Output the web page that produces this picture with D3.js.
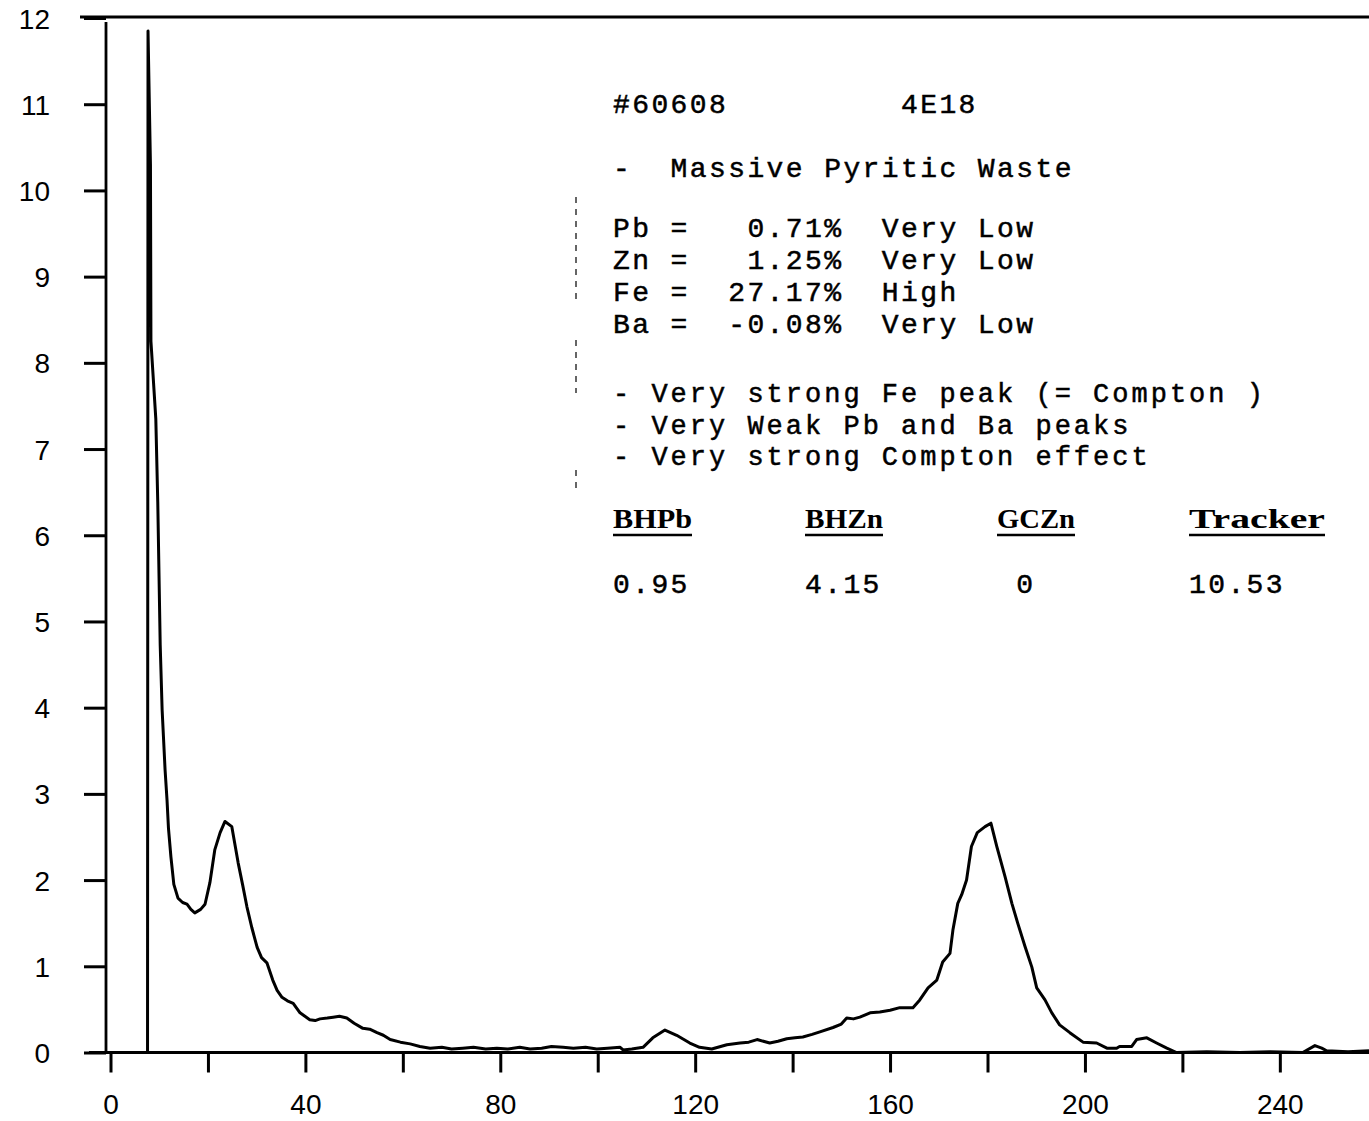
<!DOCTYPE html>
<html><head><meta charset="utf-8">
<script src="https://cdn.jsdelivr.net/npm/d3@7"></script>
<style>
body{margin:0;background:#fff}
svg{display:block}
</style>
</head><body>
<svg id="c" width="1369" height="1121"></svg>
<script>
// ---- data ----
const channels = [7.6,7.7,8.2,8.3,9.3,9.7,10.2,10.6,11.2,11.6,11.9,12.4,13.0,13.85,14.8,15.7,16.5,17.3,18.5,19.4,20.4,21.4,22.5,23.5,24.9,26.2,27.1,28.0,29.0,30.1,31.0,32.1,33.3,34.2,35.2,36.3,37.5,38.9,39.9,40.9,42.0,43.0,44.5,45.7,47.0,48.5,50.0,51.8,53.2,54.7,56.0,57.4,59.5,61.5,63.5,65.6,68.0,70.0,72.3,74.5,77.0,79.3,81.5,84.0,86.1,88.5,90.5,92.9,95.0,97.5,99.8,102.0,104.6,105.2,107.0,109.3,111.3,113.8,116.2,118.9,120.9,123.4,126.5,129.2,131.0,132.7,135.3,137.0,138.8,140.5,142.1,144.0,145.6,148.3,150.0,151.1,152.5,153.8,155.9,157.9,160.0,162.0,164.7,166.1,167.8,169.6,170.8,172.3,172.9,173.9,174.7,175.7,176.7,177.9,179.5,180.7,181.9,183.6,185.0,186.2,187.7,189.1,190.1,191.8,193.2,194.8,196.9,199.6,202.4,204.5,206.5,207.1,209.6,210.6,212.7,214.7,216.8,218.8,225.0,231.8,238.0,244.7,247.2,248.6,249.6,254.0,258.3];
const counts   = [0,11.85,10.3,8.25,7.35,6.39,4.73,3.97,3.28,2.93,2.6,2.27,1.95,1.79,1.74,1.72,1.66,1.62,1.66,1.72,1.97,2.35,2.55,2.68,2.62,2.2,1.95,1.69,1.45,1.22,1.1,1.04,0.84,0.72,0.64,0.6,0.57,0.46,0.42,0.38,0.37,0.39,0.4,0.41,0.42,0.40,0.34,0.28,0.27,0.23,0.2,0.15,0.12,0.10,0.07,0.05,0.06,0.04,0.05,0.06,0.04,0.05,0.04,0.06,0.04,0.05,0.07,0.06,0.05,0.06,0.04,0.05,0.06,0.03,0.04,0.06,0.17,0.26,0.2,0.11,0.06,0.04,0.09,0.11,0.12,0.15,0.11,0.13,0.16,0.17,0.18,0.21,0.24,0.29,0.33,0.40,0.39,0.41,0.46,0.47,0.49,0.52,0.52,0.61,0.75,0.84,1.05,1.15,1.42,1.73,1.83,2.0,2.39,2.55,2.62,2.66,2.39,2.04,1.73,1.5,1.23,0.99,0.75,0.61,0.46,0.32,0.23,0.12,0.11,0.05,0.05,0.07,0.07,0.15,0.17,0.11,0.05,0.0,0.01,0.0,0.01,0.0,0.08,0.05,0.02,0.01,0.02];

const yTickValues = [0,1,2,3,4,5,6,7,8,9,10,11,12];
const xTickValues = [0,20,40,60,80,100,120,140,160,180,200,220,240];
const xTickLabels = [0,40,80,120,160,200,240];

const sampleId = "#60608";
const sampleCode = "4E18";
const description = "Massive Pyritic Waste";
const elements = ["Pb","Zn","Fe","Ba"];
const percents = ["0.71%","1.25%","27.17%","-0.08%"];
const grades = ["Very Low","Very Low","High","Very Low"];
const remarks = ["- Very strong Fe peak (= Compton )","- Very Weak Pb and Ba peaks","- Very strong Compton effect"];
const indexNames = ["BHPb","BHZn","GCZn","Tracker"];
const indexValues = ["0.95","4.15","0","10.53"];

// ---- drawing ----
const svg = d3.select("#c");
svg.append("rect").attr("width",1369).attr("height",1121).attr("fill","#fff");

const x = d3.scaleLinear().domain([0,258.3]).range([110.5,1369]);
const y = d3.scaleLinear().domain([0,12]).range([1052.5,18]);
const axisX0 = 106;

// top frame line
svg.append("line").attr("x1",80).attr("x2",1369).attr("y1",y(12)-1).attr("y2",y(12)-1)
  .attr("stroke","#000").attr("stroke-width",2.8);

// y axis
const gy = svg.append("g").attr("transform",`translate(${axisX0},0)`)
  .call(d3.axisLeft(y).tickValues(yTickValues).tickSize(22).tickPadding(34).tickFormat(d3.format("d")));
gy.select(".domain").remove();
gy.selectAll(".tick line").attr("stroke","#000").attr("stroke-width",3);
gy.selectAll(".tick text").attr("font-family","'Liberation Sans',Arial,sans-serif")
  .attr("font-size",28).attr("fill","#000").attr("dy","0.36em");
svg.append("line").attr("x1",axisX0).attr("x2",axisX0).attr("y1",22).attr("y2",y(0))
  .attr("stroke","#000").attr("stroke-width",2.8);

// x axis
const gx = svg.append("g").attr("transform",`translate(0,${y(0)})`)
  .call(d3.axisBottom(x).tickValues(xTickValues).tickSize(20).tickPadding(22)
    .tickFormat(d => xTickLabels.includes(d) ? String(d) : ""));
gx.select(".domain").remove();
gx.selectAll(".tick line").attr("stroke","#000").attr("stroke-width",3);
gx.selectAll(".tick text").attr("font-family","'Liberation Sans',Arial,sans-serif")
  .attr("font-size",28).attr("fill","#000");
svg.append("line").attr("x1",89).attr("x2",1369).attr("y1",y(0)).attr("y2",y(0))
  .attr("stroke","#000").attr("stroke-width",2.8);

// spectrum
const pts = channels.map((c,i)=>[c,counts[i]]);
svg.append("path").datum(pts)
  .attr("d", d3.line().x(d=>x(d[0])).y(d=>y(d[1])))
  .attr("fill","none").attr("stroke","#000").attr("stroke-width",3)
  .attr("stroke-linejoin","round");

// faint dashed vertical mark
[[197,303],[340,393],[470,493]].forEach(s=>{
  svg.append("line").attr("x1",576).attr("x2",576).attr("y1",s[0]).attr("y2",s[1])
    .attr("stroke","#333").attr("stroke-width",1.5).attr("stroke-dasharray","6,6");
});

// annotation text
const col0 = 613, pitch = 19.2;
const mono = "'Liberation Mono','DejaVu Sans Mono',monospace";
function mtext(col,base,str,opt={}){
  return svg.append("text").attr("x",col0+col*pitch).attr("y",base)
    .attr("font-family",mono).attr("font-size",opt.size||28)
    .attr("letter-spacing",opt.ls!==undefined?opt.ls:2.4)
    .attr("fill","#000").attr("stroke","#000").attr("stroke-width",0.5)
    .style("white-space","pre").text(str);
}
mtext(0,113,sampleId);
mtext(15,113,sampleCode);
mtext(0,177,"-");
mtext(3,177,description);
elements.forEach((e,i)=>{
  const b = 237+i*32;
  mtext(0,b,e);
  mtext(3,b,"=");
  mtext(12-percents[i].length,b,percents[i]);
  mtext(14,b,grades[i]);
});
remarks.forEach((r,i)=>{
  mtext(0,402+i*31.5,r,{size:27,ls:3.0});
});
const headerW = [79,78,78,136];
indexNames.forEach((h,i)=>{
  const xx = col0+i*10*pitch;
  svg.append("text").attr("x",xx).attr("y",528)
    .attr("font-family","'Liberation Serif','DejaVu Serif',serif").attr("font-weight","bold")
    .attr("font-size",28).attr("fill","#000")
    .attr("textLength",headerW[i]).attr("lengthAdjust","spacingAndGlyphs").text(h);
  svg.append("line").attr("x1",xx).attr("x2",xx+headerW[i]).attr("y1",535).attr("y2",535)
    .attr("stroke","#000").attr("stroke-width",2.6);
  const v = indexValues[i];
  mtext(i*10 + (v.length===1?1:0), 593, v);
});
</script>
</body></html>
